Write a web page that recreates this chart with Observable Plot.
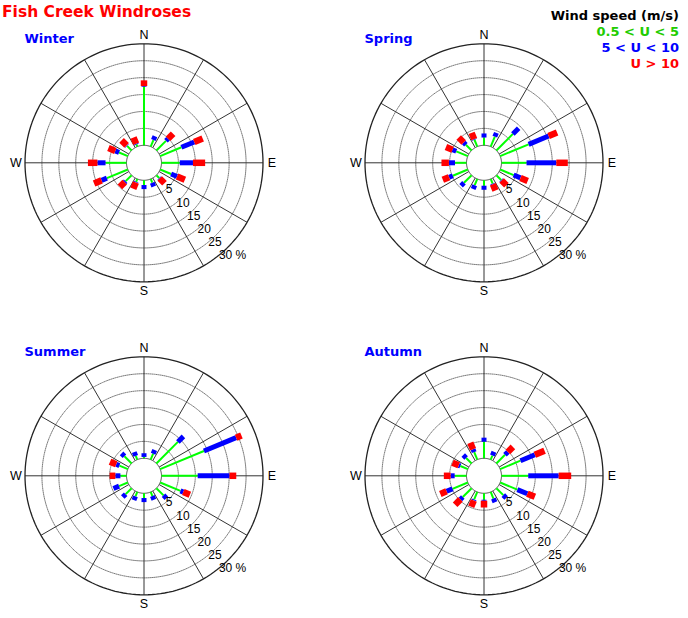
<!DOCTYPE html>
<html><head><meta charset="utf-8">
<script src="https://cdn.jsdelivr.net/npm/d3@7"></script>
<script src="https://cdn.jsdelivr.net/npm/@observablehq/plot@0.6"></script>
<style>
body{margin:0;background:#fff;}
#chart{position:relative;width:688px;height:618px;overflow:hidden;background:#fff;}
.panel{position:absolute;}
.title{position:absolute;left:2px;top:5px;font:bold 15.5px/1 "DejaVu Sans",Verdana,sans-serif;color:#ff0000;white-space:nowrap;}
.legend{position:absolute;right:9px;top:8px;font:bold 13px/16px "DejaVu Sans",Verdana,sans-serif;text-align:right;white-space:nowrap;}
</style></head><body>
<div id="chart"></div>
<script>
// ---- data ----
const chartTitle = "Fish Creek Windroses";
const legendTitle = "Wind speed (m/s)";
const seasons = ["Winter", "Spring", "Summer", "Autumn"];
const directions = [0, 22.5, 45, 67.5, 90, 112.5, 135, 157.5, 180, 202.5, 225, 247.5, 270, 292.5, 315, 337.5];
const speedClasses = ["0.5 < U < 5", "5 < U < 10", "U > 10"];
const classColors = ["#00ff00", "#0000ff", "#ff0000"];
const legendColors = ["#22cc00", "#0000ff", "#ff0000"];

// percent frequency per direction, per speed class
const winterLow  = [17.3, 2.1, 4.0, 6.8, 5.4, 3.5, 1.2, 1.2, 1.4, 0.9, 2.5, 6.7, 6.2, 2.8, 1.9, 0.7];
const winterMid  = [0.2, 1.2, 0.9, 4.1, 3.9, 1.9, 0.2, 1.2, 1.2, 0.2, 0.4, 1.7, 2.4, 1.2, 0.2, 0.2];
const winterHigh = [1.7, 0, 2.1, 2.7, 3.6, 2.5, 2.0, 0, 0, 2.0, 2.0, 2.4, 2.8, 2.2, 2.1, 2.0];

const springLow  = [2.3, 3.2, 6.9, 9.1, 7.4, 4.3, 2.0, 1.5, 1.6, 2.0, 3.2, 4.8, 3.4, 3.7, 2.4, 2.2];
const springMid  = [1.2, 1.2, 2.4, 6.4, 8.8, 2.2, 0.2, 0.2, 1.2, 1.2, 1.2, 1.2, 1.8, 1.2, 0.9, 0.2];
const springHigh = [0, 0, 0, 2.7, 3.4, 2.3, 2.0, 2.0, 0, 0, 0, 2.0, 2.2, 2.1, 2.1, 2.0];

const summerLow  = [0.4, 1.9, 9.0, 14.0, 10.7, 6.5, 3.0, 1.3, 1.4, 1.4, 2.5, 2.8, 1.8, 2.7, 3.0, 1.2];
const summerMid  = [1.1, 1.2, 2.3, 10.3, 9.4, 0.9, 1.2, 1.2, 1.2, 1.2, 1.2, 1.8, 1.5, 1.0, 1.2, 1.2];
const summerHigh = [0, 0, 0, 1.7, 2.0, 2.1, 0, 0, 0, 0, 0, 0, 1.7, 2.0, 0, 0];

const autumnLow  = [4.9, 1.3, 3.6, 6.5, 7.9, 5.5, 2.9, 2.1, 1.9, 2.4, 3.7, 4.9, 3.5, 2.4, 2.3, 2.4];
const autumnMid  = [1.2, 1.2, 1.2, 4.6, 9.0, 3.2, 1.2, 1.2, 0.3, 0.3, 1.0, 1.9, 1.2, 0.5, 1.2, 0.9];
const autumnHigh = [0, 0, 2.1, 3.1, 3.7, 2.4, 0, 0, 2.0, 2.0, 2.2, 2.0, 2.0, 2.0, 0, 2.1];

const ringTicks = [5, 10, 15, 20, 25, 30];
const ringLabels = ["5", "10", "15", "20", "25", "30 %"];
const compassLabels = ["N", "E", "S", "W"];
const compassAngles = [0, 90, 180, 270];
const spokeAngles = [0, 30, 60, 90, 120, 150, 180, 210, 240, 270, 300, 330];

const seasonData = [
  [winterLow, winterMid, winterHigh],
  [springLow, springMid, springHigh],
  [summerLow, summerMid, summerHigh],
  [autumnLow, autumnMid, autumnHigh]
];

// ---- geometry (radial axis: inner hub = 0 %, outer ring = 30 %) ----
const PX_PER_PCT = 3.383;
const HUB = 17.5 / PX_PER_PCT;      // hub radius in % units
const RMAX = HUB + 30;
const LABEL_R = 128 / PX_PER_PCT;
const TICK_BEARING = 141;

const pol = (a, r) => [r * Math.sin(a * Math.PI / 180), r * Math.cos(a * Math.PI / 180)];
const circle = v => d3.range(0, 361, 2).map(t => { const [x, y] = pol(t, HUB + v); return {x, y}; });

function rose(season, series) {
  const segs = [];
  directions.forEach((a, i) => {
    let start = 0;
    series.forEach((vals, k) => {
      const end = start + vals[i];
      if (vals[i] > 0) {
        const [x1, y1] = pol(a, HUB + start);
        const [x2, y2] = pol(a, HUB + end);
        segs.push({x1, y1, x2, y2, k});
      }
      start = end;
    });
  });
  const widths = [2, 5, 6.5];
  const marks = [];
  ringTicks.slice(0, 5).forEach(v => marks.push(
    Plot.line(circle(v), {x: "x", y: "y", stroke: "#7a7a7a", strokeWidth: 1, strokeDasharray: "1,1"})
  ));
  marks.push(Plot.link(spokeAngles, {
    x1: a => pol(a, HUB)[0], y1: a => pol(a, HUB)[1],
    x2: a => pol(a, RMAX)[0], y2: a => pol(a, RMAX)[1],
    stroke: "#333", strokeWidth: 1
  }));
  marks.push(Plot.line(circle(30), {x: "x", y: "y", stroke: "#222", strokeWidth: 1.3}));
  marks.push(Plot.line(circle(0), {x: "x", y: "y", stroke: "#444", strokeWidth: 1, fill: "white"}));
  [0, 1, 2].forEach(k => marks.push(
    Plot.link(segs.filter(d => d.k === k), {
      x1: "x1", y1: "y1", x2: "x2", y2: "y2",
      stroke: classColors[k], strokeWidth: widths[k], strokeLinecap: "butt"
    })
  ));
  marks.push(Plot.text(ringTicks, {
    x: v => pol(TICK_BEARING, HUB + v)[0], y: v => pol(TICK_BEARING, HUB + v)[1],
    text: (v, i) => ringLabels[i], textAnchor: "start", lineAnchor: "middle",
    fill: "#000", fontSize: 12
  }));
  marks.push(Plot.text(compassAngles, {
    x: a => pol(a, LABEL_R)[0], y: a => pol(a, LABEL_R)[1],
    text: (a, i) => compassLabels[i], textAnchor: "middle", lineAnchor: "middle",
    fill: "#000", fontSize: 12.5
  }));
  marks.push(Plot.text([season], {
    frameAnchor: "top-left", text: d => d, dx: -0.5, dy: -1.3,
    textAnchor: "start", lineAnchor: "bottom",
    fill: "#0000ff", fontWeight: "bold", fontSize: 13, fontFamily: "DejaVu Sans, Verdana, sans-serif"
  }));
  return Plot.plot({
    width: 340, height: 313,
    marginLeft: 24.5, marginRight: 77.5, marginTop: 43.3, marginBottom: 31.7,
    x: {domain: [-RMAX, RMAX], axis: null},
    y: {domain: [-RMAX, RMAX], axis: null},
    style: {fontFamily: "Liberation Sans, Arial, sans-serif", fontSize: "12px", background: "transparent", overflow: "visible"},
    marks
  });
}

const chart = document.getElementById("chart");
const offsets = [[0, 0], [340, 0], [0, 313], [340, 313]];
seasons.forEach((s, i) => {
  const svg = rose(s, seasonData[i]);
  const wrap = document.createElement("div");
  wrap.className = "panel";
  wrap.style.left = offsets[i][0] + "px";
  wrap.style.top = offsets[i][1] + "px";
  wrap.appendChild(svg);
  chart.appendChild(wrap);
});

const t = document.createElement("div");
t.className = "title";
t.textContent = chartTitle;
chart.appendChild(t);

const lg = document.createElement("div");
lg.className = "legend";
const head = document.createElement("div");
head.textContent = legendTitle;
head.style.color = "#000";
lg.appendChild(head);
speedClasses.forEach((c, i) => {
  const d = document.createElement("div");
  d.textContent = c;
  d.style.color = legendColors[i];
  lg.appendChild(d);
});
chart.appendChild(lg);
</script>
</body></html>
